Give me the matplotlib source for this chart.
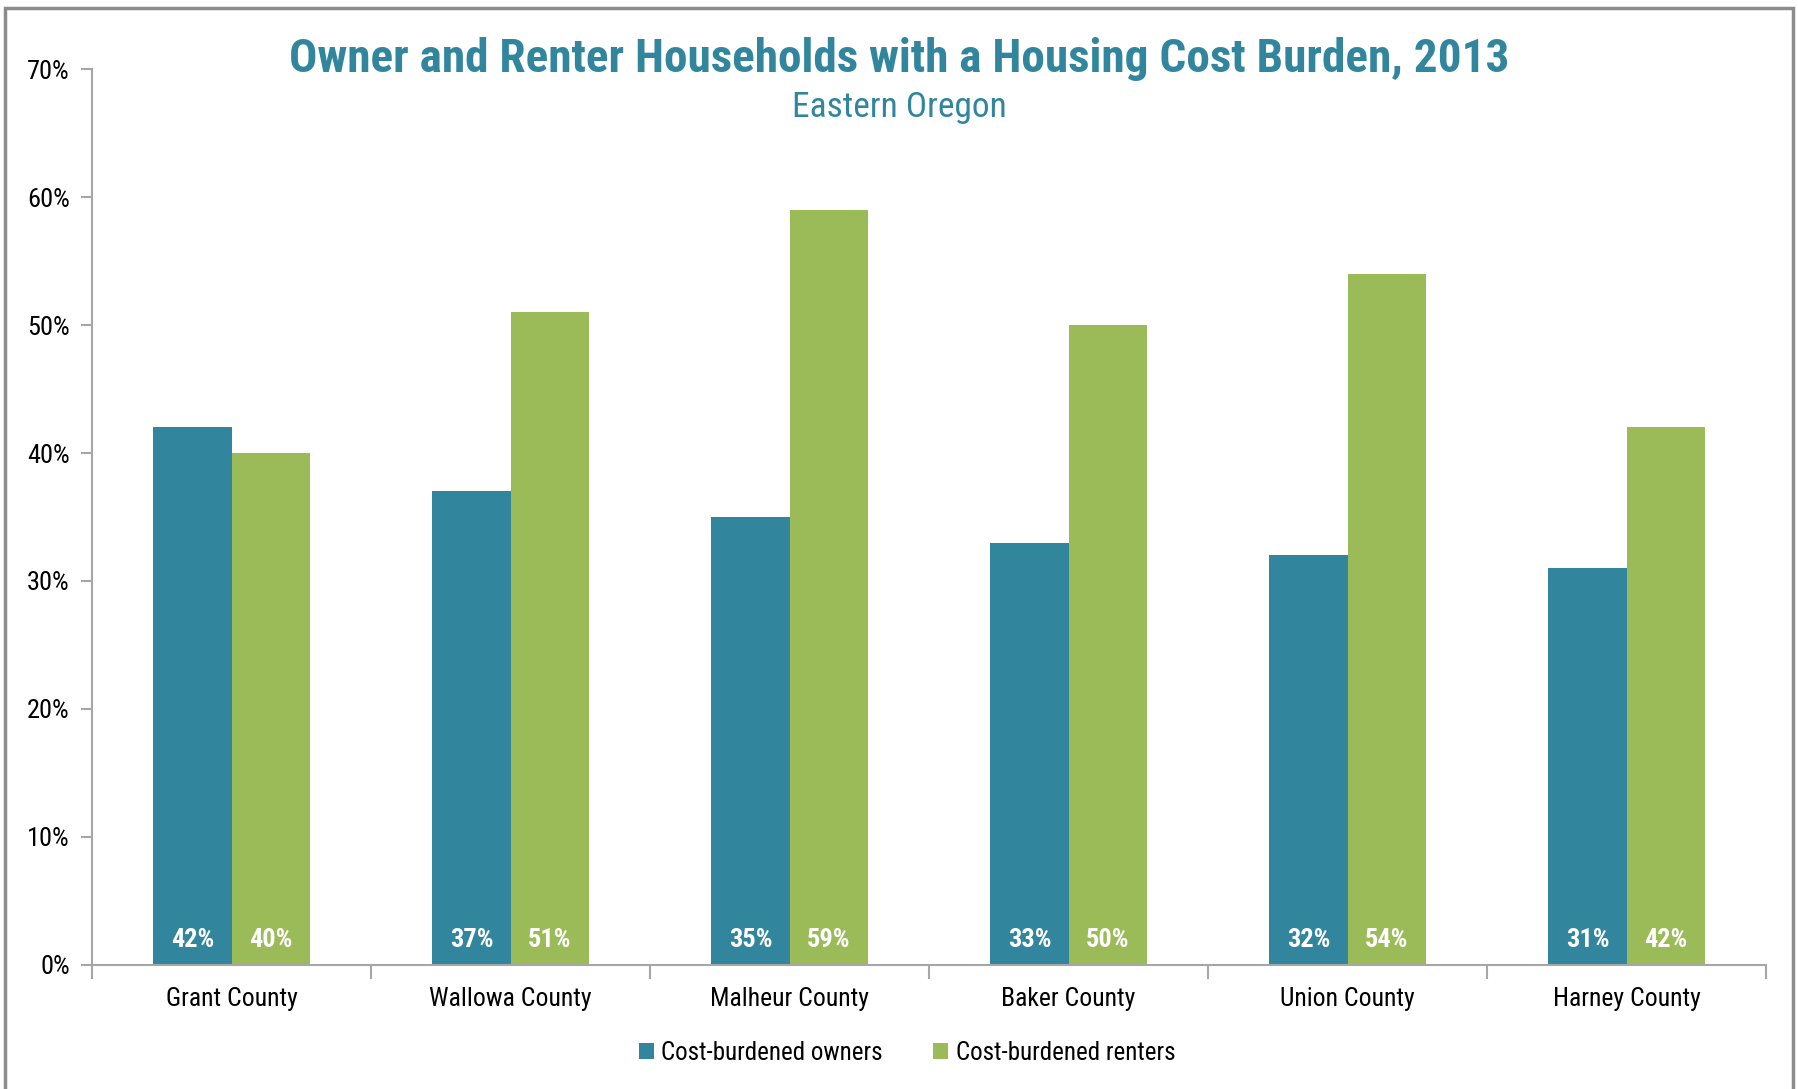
import numpy as np
import matplotlib
matplotlib.use("Agg")
import matplotlib.pyplot as plt
from matplotlib.patches import Rectangle

plt.rcParams["font.family"] = ["Roboto Condensed", "Liberation Sans", "DejaVu Sans"]

###########################################################################
# Data
###########################################################################

counties = ["Grant County", "Wallowa County", "Malheur County",
            "Baker County", "Union County", "Harney County"]
owners = [42, 37, 35, 33, 32, 31]
renters = [40, 51, 59, 50, 54, 42]
series_names = ["Cost-burdened owners", "Cost-burdened renters"]
yticks = [0, 10, 20, 30, 40, 50, 60, 70]

TEAL = "#31869E"
GREEN = "#9BBB59"
TITLE_COLOR = "#31869E"
GRID = "#A6A6A6"

###########################################################################
# Figure
###########################################################################

fig = plt.figure(figsize=(17.98, 10.89), dpi=100)
ax = fig.add_axes([0.0512, 0.1139, 0.9310, 0.8227])

# outer frame
fig.patches.append(Rectangle((0.003, -0.02), 0.994, 1.013, transform=fig.transFigure,
                             fill=False, edgecolor="#8C8C8C", linewidth=2.5))

x = np.arange(len(counties))
w = 0.28

b1 = ax.bar(x - w / 2, owners, w, color=TEAL, label=series_names[0])
b2 = ax.bar(x + w / 2, renters, w, color=GREEN, label=series_names[1])

for bars, vals in [(b1, owners), (b2, renters)]:
    for rect, v in zip(bars, vals):
        ax.annotate(f"{v}%", (rect.get_x() + rect.get_width() / 2, 0),
                    xytext=(0, 18), textcoords="offset points",
                    ha="center", va="center", color="white",
                    fontsize=19, fontweight="bold")

ax.set_xlim(-0.5, len(counties) - 0.5)
ax.set_ylim(0, 70)
ax.set_yticks(yticks)
ax.set_yticklabels([f"{t}%" for t in yticks], fontsize=19)

ax.set_xticks(x)
ax.set_xticklabels(counties, fontsize=18.5)
ax.tick_params(axis="x", length=0, pad=16)
ax.set_xticks(np.arange(len(counties) + 1) - 0.5, minor=True)
ax.tick_params(axis="x", which="minor", length=10, color=GRID, width=1.5)
ax.tick_params(axis="y", length=8, color=GRID, width=1.5, pad=8)

for s in ["top", "right"]:
    ax.spines[s].set_visible(False)
for s in ["left", "bottom"]:
    ax.spines[s].set_color(GRID)
    ax.spines[s].set_linewidth(1.5)

fig.text(0.5, 0.946, "Owner and Renter Households with a Housing Cost Burden, 2013",
         ha="center", va="center", fontsize=34, fontweight="bold", color=TITLE_COLOR)
fig.text(0.5, 0.901, "Eastern Oregon", ha="center", va="center",
         fontsize=25.5, color=TITLE_COLOR)

fig.legend(loc="center", bbox_to_anchor=(0.5045, 0.033), ncol=2, frameon=False,
           fontsize=18, handlelength=0.6, handleheight=0.6, handletextpad=0.3,
           columnspacing=2.0)

fig.savefig("out.png", dpi=100)
